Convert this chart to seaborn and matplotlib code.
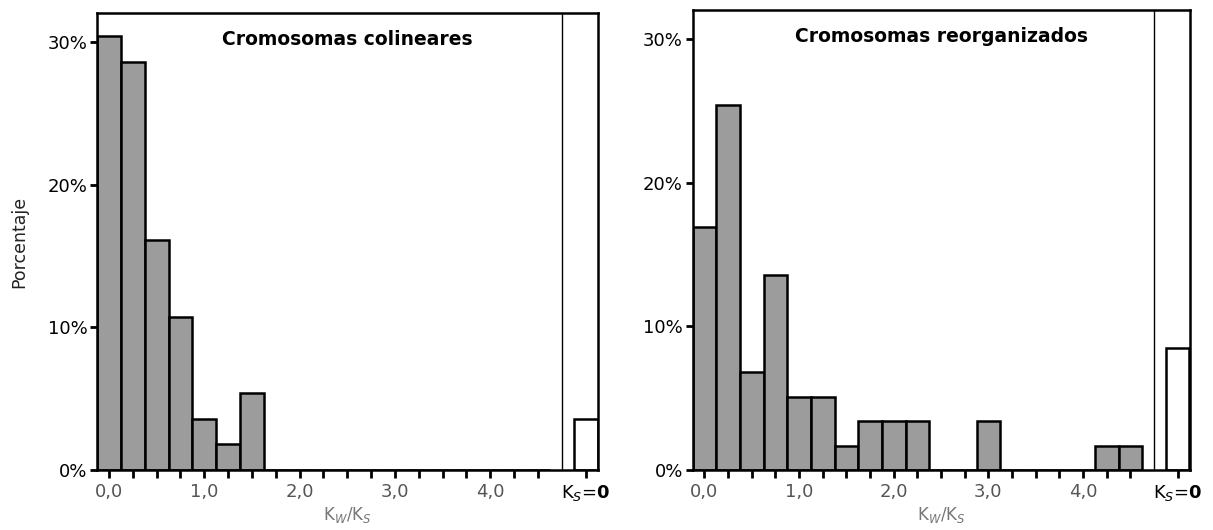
import numpy as np
import pandas as pd
import matplotlib.pyplot as plt
import seaborn as sns

sns.set_style('ticks')
plt.rcParams.update({'font.size': 12, 'font.family': ['DejaVu Sans'],
                     'text.color': 'black', 'axes.labelcolor': 'black',
                     'xtick.color': 'black', 'ytick.color': 'black'})

# bin centres (Kw/Ks) and percentages
bin_width = 0.25
col_centers = [0.0, 0.25, 0.5, 0.75, 1.0, 1.25, 1.5]
col_pct = [30.4, 28.6, 16.1, 10.7, 3.6, 1.8, 5.4]
col_ks0 = 3.6

reo_centers = [0.0, 0.25, 0.5, 0.75, 1.0, 1.25, 1.5, 1.75, 2.0, 2.25, 3.0, 4.25, 4.5]
reo_pct = [16.9, 25.4, 6.8, 13.6, 5.1, 5.1, 1.7, 3.4, 3.4, 3.4, 3.4, 1.7, 1.7]
reo_ks0 = 8.5

titles = ['Cromosomas colineares', 'Cromosomas reorganizados']
ks0_pos = 5.0
major_ticks = [0, 1, 2, 3, 4]
major_labels = ['0,0', '1,0', '2,0', '3,0', '4,0']
yticks = [0, 10, 20, 30]
ylabels = ['0%', '10%', '20%', '30%']

fig = plt.figure(figsize=(12.13, 5.30), dpi=100)
ax1 = fig.add_axes([0.080, 0.113, 0.413, 0.862])
ax2 = fig.add_axes([0.571, 0.113, 0.410, 0.868])

panels = [(ax1, col_centers, col_pct, col_ks0, titles[0]),
          (ax2, reo_centers, reo_pct, reo_ks0, titles[1])]

for ax, centers, pct, ks0, title in panels:
    edges = [round(-0.125 + bin_width * i, 3) for i in range(20)]
    df = pd.DataFrame({'x': centers, 'pct': pct})
    sns.histplot(data=df, x='x', weights='pct', bins=edges, color='#9c9c9c',
                 edgecolor='black', linewidth=1.8, alpha=1, ax=ax)
    # K_S = 0 column, drawn apart
    ks = pd.DataFrame({'x': [ks0_pos], 'pct': [ks0]})
    sns.histplot(data=ks, x='x', weights='pct', bins=[ks0_pos - 0.125, ks0_pos + 0.125],
                 color='white', edgecolor='black', linewidth=1.8, alpha=1, ax=ax)
    ax.axvline(4.75, color='black', lw=1.0)

    ax.set_xlim(-0.125, 5.13)
    ax.set_ylim(0, 32)
    for s in ax.spines.values():
        s.set_linewidth(1.8)
        s.set_color('black')

    minor = [t for t in np.arange(0, 4.51, 0.25) if t % 1 != 0]
    ax.set_xticks(major_ticks + [ks0_pos])
    ax.set_xticklabels(major_labels + [r'K$_S$=$\mathbf{0}$'])
    ax.set_xticks(minor, minor=True)
    for lab in ax.get_xticklabels()[:-1]:
        lab.set_color('#555555')
    ax.tick_params(axis='x', which='both', length=6, width=2, direction='out', labelsize=13)
    ax.set_yticks(yticks)
    ax.set_yticklabels(ylabels)
    ax.tick_params(axis='y', length=5, width=2, direction='out', labelsize=13, pad=2)

    ax.set_xlabel(r'K$_W$/K$_S$', color='#777777', fontsize=12, labelpad=1)
    ax.set_ylabel('')
    ax.text(0.5, 0.943, title, transform=ax.transAxes, ha='center', va='center',
            fontsize=13.5, fontweight='bold', color='black')

ax1.set_ylabel('Porcentaje', fontsize=12.5, labelpad=14, color='#222222')

fig.savefig('out.png', dpi=100)
